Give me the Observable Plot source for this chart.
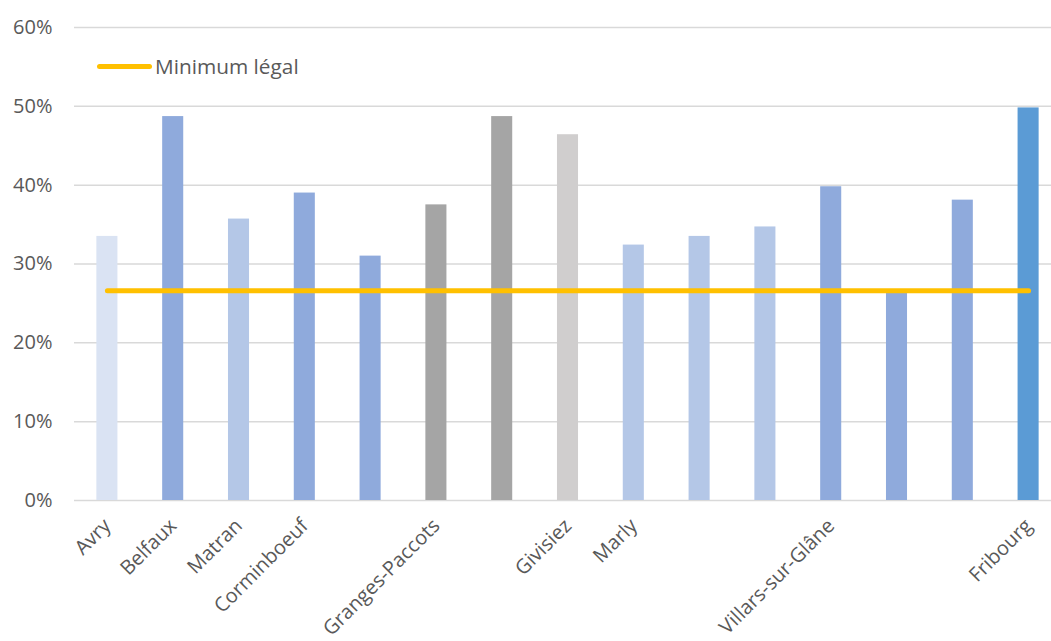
<!DOCTYPE html>
<html>
<head>
<meta charset="utf-8">
<script src="https://cdn.jsdelivr.net/npm/d3@7"></script>
<script src="https://cdn.jsdelivr.net/npm/@observablehq/plot@0.6"></script>
<style>
  html, body { margin: 0; padding: 0; background: #fff; }
  #wrap { position: relative; width: 1051px; height: 641px; overflow: hidden; }
  #legend { position: absolute; left: 97px; top: 52px; display: flex; align-items: center;
    font-family: "Open Sans", sans-serif; font-size: 20.8px; color: #595959; }
  #legend .sw { width: 55px; height: 5px; background: #ffc000; border-radius: 3px; margin-right: 3px; }
</style>
</head>
<body>
<div id="wrap"><div id="legend"><span class="sw"></span><span>Minimum légal</span></div></div>
<script>
const categories = ["Avry", "Belfaux", "Matran", "Corminboeuf", "", "Granges-Paccots", "", "Givisiez", "Marly", "", "", "Villars-sur-Glâne", "", "", "Fribourg"];
const values = [0.335, 0.487, 0.357, 0.390, 0.310, 0.375, 0.487, 0.464, 0.324, 0.335, 0.347, 0.398, 0.263, 0.381, 0.498];
const colors = ["#dae3f3", "#8faadc", "#b4c7e7", "#8faadc", "#8faadc", "#a5a5a5", "#a5a5a5", "#d0cece", "#b4c7e7", "#b4c7e7", "#b4c7e7", "#8faadc", "#8faadc", "#8faadc", "#5b9bd5"];
const minimumLegal = 0.266;
const yTicks = [0, 0.1, 0.2, 0.3, 0.4, 0.5, 0.6];

const data = values.map((v, i) => ({i, v, c: colors[i]}));
const lineData = values.map((v, i) => ({i, v: minimumLegal}));

const chart = Plot.plot({
  width: 1051,
  height: 641,
  marginTop: 27,
  marginBottom: 141,
  marginLeft: 74,
  marginRight: 0,
  style: {fontFamily: "'Open Sans', sans-serif", fontSize: "20px", color: "#595959", background: "transparent"},
  x: {domain: d3.range(categories.length), range: [74, 1061], paddingInner: 0.68, paddingOuter: 0.34, round: false, label: null},
  y: {domain: [0, 0.6], label: null},
  marks: [
    Plot.ruleY(yTicks, {stroke: "#d9d9d9", strokeWidth: 1.5}),
    Plot.barY(data, {x: "i", y: "v", fill: "c"}),
    Plot.lineY(lineData, {x: "i", y: "v", stroke: "#ffc000", strokeWidth: 5, strokeLinecap: "round"}),
    Plot.axisY({ticks: yTicks, tickFormat: d => Math.round(d * 100) + "%", tickSize: 0, tickPadding: 22, fill: "#595959", fontSize: 20, label: null}),
    Plot.axisX({tickFormat: i => categories[i], tickSize: 0, tickRotate: -45, tickPadding: 22, fill: "#595959", fontSize: 20, label: null})
  ]
});
document.getElementById("wrap").prepend(chart);
chart.style.position = "absolute";
chart.style.left = "0";
chart.style.top = "0";
</script>
</body>
</html>
